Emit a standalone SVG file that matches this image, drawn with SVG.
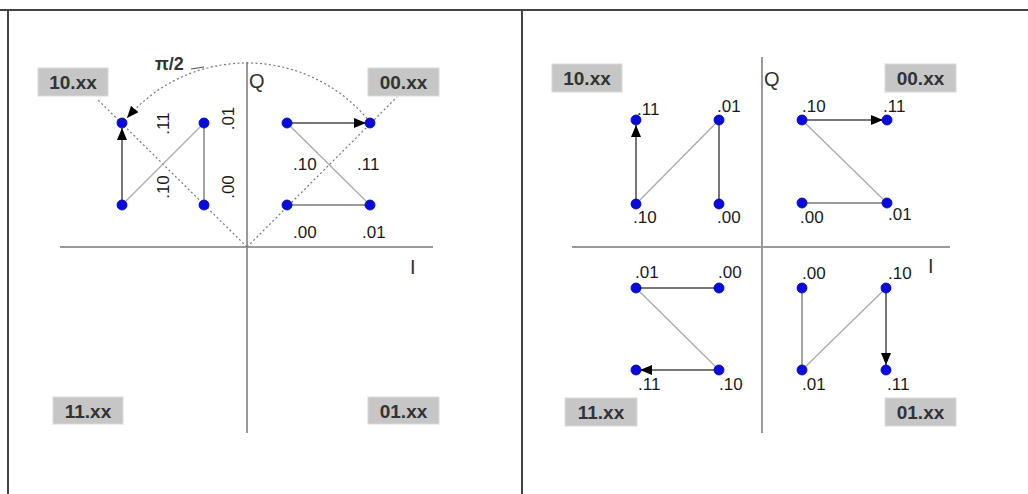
<svg xmlns="http://www.w3.org/2000/svg" width="1028" height="494" viewBox="0 0 1028 494">
<defs>
<style>
.frame{stroke:#444;stroke-width:2;fill:none}
.axis{stroke:#9a9a9a;stroke-width:2;fill:none}
.dot{stroke:#777;stroke-width:1.2;stroke-dasharray:2 2.5;fill:none}
.dark{stroke:#4a4a4a;stroke-width:1.5;fill:none}
.mid{stroke:#999;stroke-width:1.8;fill:none}
.light{stroke:#aaa;stroke-width:1.3;fill:none}
.node{fill:#0a0ae0;stroke:#0000a0;stroke-width:0.8}
.lbl{font-family:"Liberation Sans",Arial,sans-serif;font-size:17px;fill:#1a1a1a}
.ax{font-family:"Liberation Sans",Arial,sans-serif;font-size:20px;fill:#333}
.box{fill:#c6c6c6;stroke:#dadada;stroke-width:1}
.boxt{font-family:"Liberation Sans",Arial,sans-serif;font-size:19px;font-weight:bold;fill:#333;text-anchor:middle}
</style>
<marker id="ah" markerUnits="userSpaceOnUse" markerWidth="14" markerHeight="11" refX="12" refY="5" orient="auto">
<path d="M0,0 L12,5 L0,10 z" fill="#000"/>
</marker>
</defs>
<rect width="1028" height="494" fill="#fff"/>
<g id="frame">
<line class="frame" x1="0" y1="10" x2="1028" y2="10"/>
<line class="frame" x1="8" y1="10" x2="8" y2="494"/>
<line class="frame" x1="522" y1="10" x2="522" y2="494"/>
</g>
<g id="left-axes">
<line class="axis" x1="247" y1="62" x2="247" y2="433"/>
<line class="axis" x1="60" y1="247" x2="433" y2="247"/>
<text class="ax" x="249" y="88">Q</text>
<text class="ax" x="410" y="274">I</text>
<text class="ax" x="155" y="70" style="font-size:18px;font-weight:bold">π/2</text>
</g>
<g id="connectors">
<line class="dot" x1="247" y1="247" x2="98" y2="100"/>
<line class="dot" x1="247" y1="247" x2="397" y2="97"/>
<path class="dot" d="M370 122 A158 158 0 0 0 127 118" marker-end="url(#ah)"/>
<line stroke="#555" stroke-width="1.2" x1="191" y1="69" x2="204" y2="67"/>
<line class="dark" x1="122" y1="205" x2="122" y2="128" marker-end="url(#ah)"/>
<line class="light" x1="122" y1="205" x2="204" y2="123"/>
<line class="mid" x1="204" y1="123" x2="204" y2="205"/>
<line class="dark" x1="287" y1="123" x2="366" y2="123" marker-end="url(#ah)"/>
<line class="light" x1="287" y1="123" x2="370" y2="205"/>
<line class="mid" x1="287" y1="205" x2="370" y2="205"/>
<line class="dark" x1="636" y1="204" x2="636" y2="125" marker-end="url(#ah)"/>
<line class="light" x1="636" y1="204" x2="719" y2="120"/>
<line class="dark" x1="719" y1="120" x2="719" y2="204"/>
<line class="dark" x1="802" y1="120" x2="883" y2="120" marker-end="url(#ah)"/>
<line class="light" x1="802" y1="120" x2="887" y2="203"/>
<line class="mid" x1="802" y1="203" x2="887" y2="203"/>
<line class="dark" x1="636" y1="288" x2="719" y2="288"/>
<line class="light" x1="636" y1="288" x2="719" y2="370"/>
<line class="dark" x1="719" y1="370" x2="640" y2="370" marker-end="url(#ah)"/>
<line class="mid" x1="802" y1="288" x2="802" y2="370"/>
<line class="light" x1="802" y1="370" x2="886" y2="288"/>
<line class="dark" x1="886" y1="288" x2="886" y2="365" marker-end="url(#ah)"/>
</g>
<g id="left-q2">
<rect class="box" x="38" y="68" width="70" height="28"/>
<text class="boxt" x="73" y="89">10.xx</text>
<circle class="node" cx="122" cy="123" r="5"/>
<circle class="node" cx="204" cy="123" r="5"/>
<circle class="node" cx="122" cy="205" r="5"/>
<circle class="node" cx="204" cy="205" r="5"/>
<text class="lbl" text-anchor="middle" transform="translate(169,123.5) rotate(-90)">.11</text>
<text class="lbl" text-anchor="middle" transform="translate(169,187) rotate(-90)">.10</text>
<text class="lbl" text-anchor="middle" transform="translate(234,118.5) rotate(-90)">.01</text>
<text class="lbl" text-anchor="middle" transform="translate(234,187) rotate(-90)">.00</text>
</g>
<g id="left-q1">
<rect class="box" x="368" y="68" width="71" height="28"/>
<text class="boxt" x="403.5" y="89">00.xx</text>
<circle class="node" cx="287" cy="123" r="5"/>
<circle class="node" cx="370" cy="123" r="5"/>
<circle class="node" cx="287" cy="205" r="5"/>
<circle class="node" cx="370" cy="205" r="5"/>
<text class="lbl" x="293" y="170">.10</text>
<text class="lbl" x="357" y="170">.11</text>
<text class="lbl" x="293" y="238">.00</text>
<text class="lbl" x="362" y="238">.01</text>
</g>
<g id="left-q3">
<rect class="box" x="53" y="397" width="70" height="27"/>
<text class="boxt" x="88" y="417.5">11.xx</text>
</g>
<g id="left-q4">
<rect class="box" x="368" y="397" width="71" height="27"/>
<text class="boxt" x="403.5" y="417.5">01.xx</text>
</g>
<g id="right-axes">
<line class="axis" x1="762" y1="57" x2="762" y2="433"/>
<line class="axis" x1="572" y1="247" x2="950" y2="247"/>
<text class="ax" x="764" y="86">Q</text>
<text class="ax" x="928" y="273">I</text>
</g>
<g id="right-q2">
<rect class="box" x="552" y="64" width="70" height="28"/>
<text class="boxt" x="587" y="85">10.xx</text>
<circle class="node" cx="636" cy="120" r="5"/>
<circle class="node" cx="719" cy="120" r="5"/>
<circle class="node" cx="636" cy="204" r="5"/>
<circle class="node" cx="719" cy="204" r="5"/>
<text class="lbl" x="637" y="115">.11</text>
<text class="lbl" x="717" y="112">.01</text>
<text class="lbl" x="633" y="223">.10</text>
<text class="lbl" x="717" y="223">.00</text>
</g>
<g id="right-q1">
<rect class="box" x="885" y="64" width="71" height="28"/>
<text class="boxt" x="920.5" y="85">00.xx</text>
<circle class="node" cx="802" cy="120" r="5"/>
<circle class="node" cx="887" cy="120" r="5"/>
<circle class="node" cx="802" cy="203" r="5"/>
<circle class="node" cx="887" cy="203" r="5"/>
<text class="lbl" x="802" y="112">.10</text>
<text class="lbl" x="883" y="112">.11</text>
<text class="lbl" x="800" y="223">.00</text>
<text class="lbl" x="888" y="220">.01</text>
</g>
<g id="right-q3">
<rect class="box" x="565" y="398" width="72" height="28"/>
<text class="boxt" x="601" y="419">11.xx</text>
<circle class="node" cx="636" cy="288" r="5"/>
<circle class="node" cx="719" cy="288" r="5"/>
<circle class="node" cx="636" cy="370" r="5"/>
<circle class="node" cx="719" cy="370" r="5"/>
<text class="lbl" x="635" y="278">.01</text>
<text class="lbl" x="718" y="278">.00</text>
<text class="lbl" x="638" y="390">.11</text>
<text class="lbl" x="719" y="390">.10</text>
</g>
<g id="right-q4">
<rect class="box" x="885" y="398" width="71" height="28"/>
<text class="boxt" x="920.5" y="419">01.xx</text>
<circle class="node" cx="802" cy="288" r="5"/>
<circle class="node" cx="886" cy="288" r="5"/>
<circle class="node" cx="802" cy="370" r="5"/>
<circle class="node" cx="886" cy="370" r="5"/>
<text class="lbl" x="802" y="279">.00</text>
<text class="lbl" x="888" y="279">.10</text>
<text class="lbl" x="802" y="390">.01</text>
<text class="lbl" x="887" y="390">.11</text>
</g>
</svg>
